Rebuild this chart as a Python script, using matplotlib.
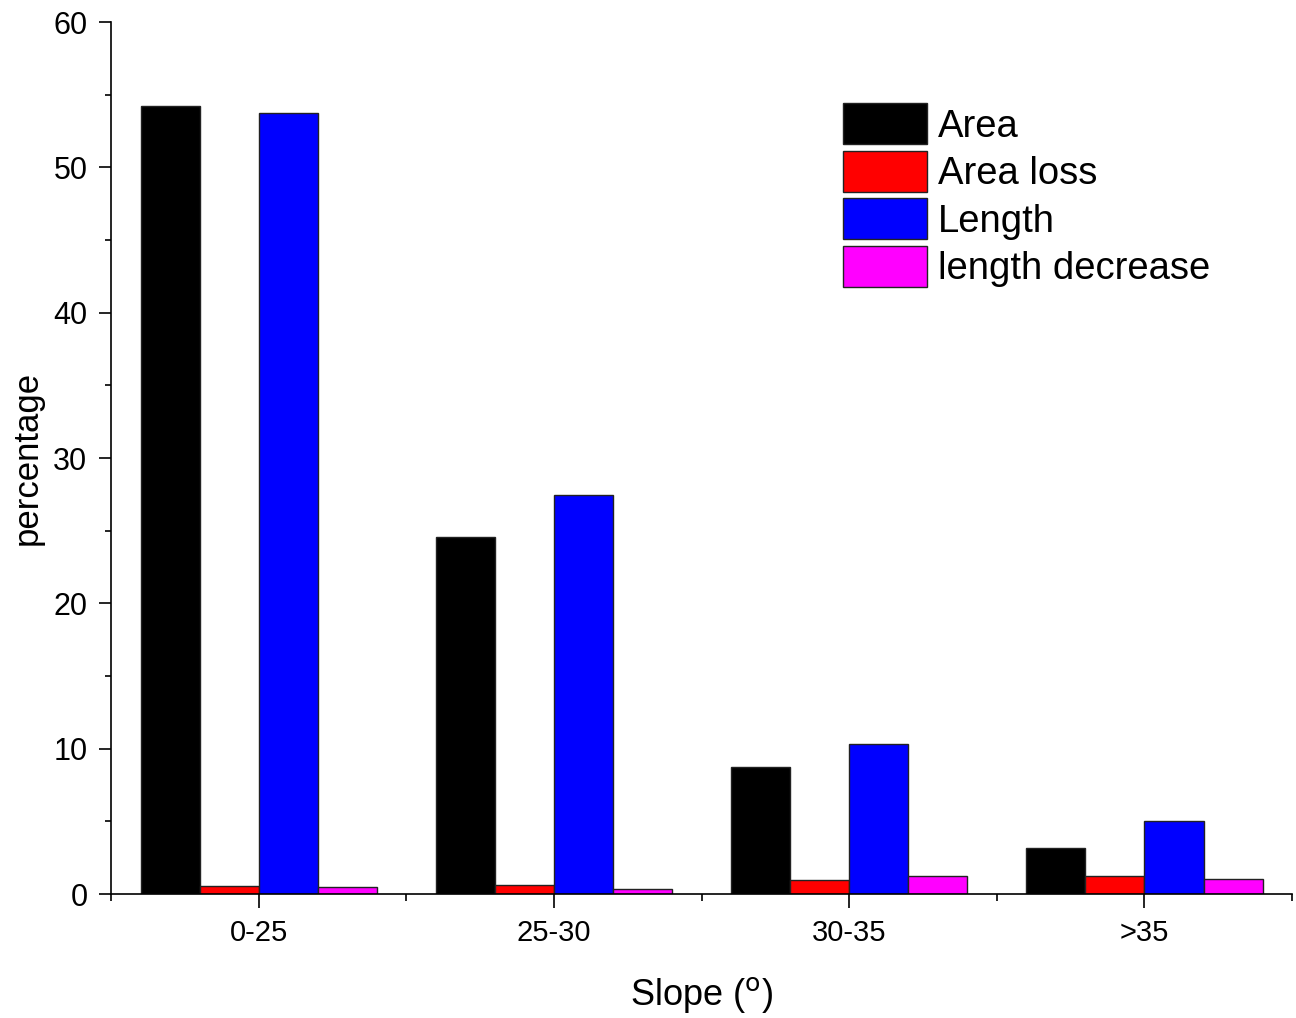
import numpy as np
import matplotlib.pyplot as plt
from matplotlib.ticker import MultipleLocator, FixedLocator

plt.rcParams['font.family'] = ['Liberation Sans', 'DejaVu Sans']

slope_classes = ['0-25', '25-30', '30-35', '>35']
area = [54.2, 24.6, 8.75, 3.2]
area_loss = [0.55, 0.6, 0.95, 1.25]
length = [53.75, 27.45, 10.3, 5.0]
length_decrease = [0.5, 0.35, 1.25, 1.05]

series = [('Area', area, '#000000'),
          ('Area loss', area_loss, '#ff0000'),
          ('Length', length, '#0000ff'),
          ('length decrease', length_decrease, '#ff00ff')]

fig = plt.figure(figsize=(12.96, 10.18), dpi=100)
ax = fig.add_axes([0.0857, 0.1218, 0.9113, 0.8565])

xs = np.arange(len(slope_classes))
w = 0.2
for i, (name, vals, col) in enumerate(series):
    ax.bar(xs - 0.4 + i * w, vals, width=w, align='edge', color=col,
           edgecolor='#222222', linewidth=1.0, label=name)

ax.set_xlim(-0.5, 3.5)
ax.set_ylim(0, 60)
ax.set_xticks(xs)
ax.set_xticklabels(slope_classes, fontsize=21)
ax.xaxis.set_minor_locator(FixedLocator(np.arange(-0.5, 3.6, 1.0)))
ax.yaxis.set_major_locator(MultipleLocator(10))
ax.yaxis.set_minor_locator(MultipleLocator(5))
ax.tick_params(axis='y', which='major', labelsize=22, length=9, width=1.2, direction='out', pad=8)
ax.tick_params(axis='y', which='minor', length=4.5, width=1.2, direction='out')
ax.tick_params(axis='x', which='major', length=10, width=1.2, direction='out', pad=8)
ax.tick_params(axis='x', which='minor', length=5, width=1.2, direction='out')

for s in ['top', 'right']:
    ax.spines[s].set_visible(False)
for s in ['left', 'bottom']:
    ax.spines[s].set_linewidth(1.2)

ax.set_xlabel('Slope ($^{\\rm o}$)', fontsize=26, labelpad=20)
ax.set_ylabel('percentage', fontsize=25, labelpad=7)

ax.legend(loc='upper left', bbox_to_anchor=(0.62, 0.907), frameon=False,
          fontsize=27.5, handlelength=2.2, handleheight=1.28,
          handletextpad=0.28, labelspacing=0.16, borderpad=0, borderaxespad=0)

fig.savefig('out.png', dpi=100)
